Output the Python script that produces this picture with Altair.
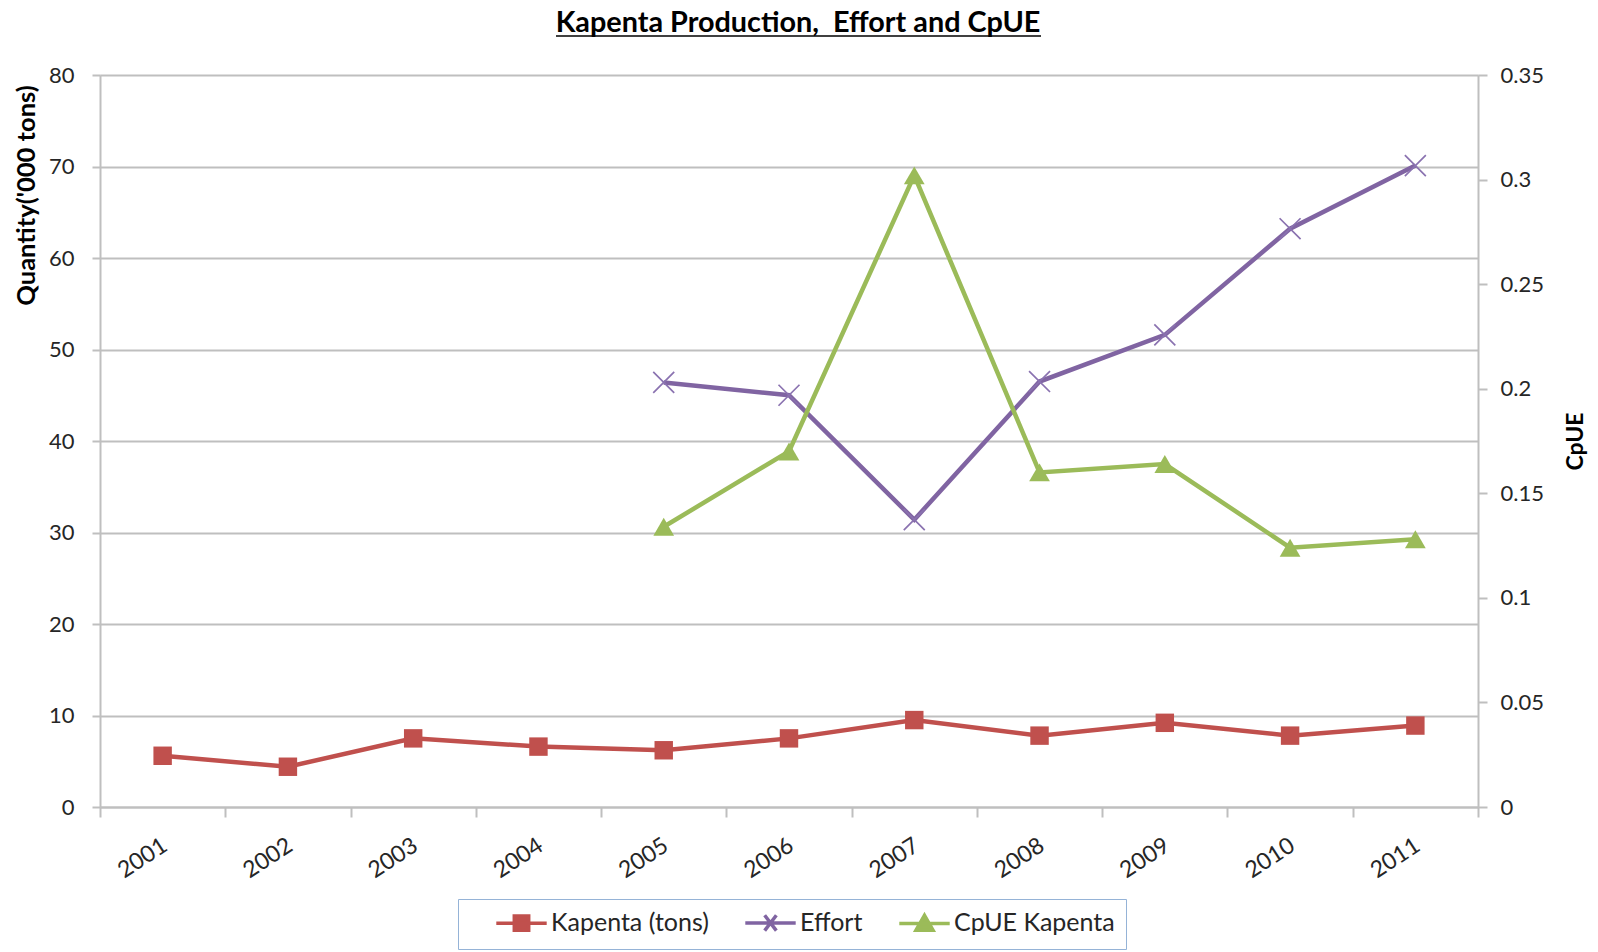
import altair as alt
import pandas as pd

# ---------------- data ----------------
years = ["2001", "2002", "2003", "2004", "2005", "2006", "2007", "2008", "2009", "2010", "2011"]
kapenta = [5.6, 4.4, 7.5, 6.6, 6.2, 7.5, 9.5, 7.8, 9.2, 7.8, 8.9]
effort_years = ["2005", "2006", "2007", "2008", "2009", "2010", "2011"]
effort = [46.4, 45.0, 31.4, 46.5, 51.6, 63.2, 70.1]
cpue = [0.134, 0.170, 0.302, 0.160, 0.164, 0.124, 0.128]
series = ["Kapenta (tons)", "Effort", "CpUE Kapenta"]
colors = ["#C0504D", "#8064A2", "#9BBB59"]
left_ticks = [0, 10, 20, 30, 40, 50, 60, 70, 80]
right_ticks = [0, 0.05, 0.1, 0.15, 0.2, 0.25, 0.3, 0.35]
title_text = "Kapenta Production,\u00a0 Effort and CpUE"

df_k = pd.DataFrame({"year": years, "value": kapenta})
df_e = pd.DataFrame({"year": effort_years, "value": effort})
df_c = pd.DataFrame({"year": effort_years, "value": cpue})
df_leg = pd.DataFrame({"series": series})

FONT = "Lato"
W, H = 1378, 732
GRID = "#BFBFBF"
TXT = "#262626"

x_enc = alt.X(
    "year:O",
    scale=alt.Scale(type="band", domain=years, paddingInner=0, paddingOuter=0),
    axis=alt.Axis(
        title=None, labelAngle=-33, labelAlign="right", labelBaseline="top",
        labelFont=FONT, labelFontSize=23, labelColor=TXT, labelPadding=17, labelOffset=-4,
        tickBand="extent", tickSize=10, tickColor=GRID, tickWidth=2,
        domainColor=GRID, domainWidth=2, grid=False,
    ),
)

left_axis = alt.Axis(
    values=left_ticks, format="d", title="Quantity('000 tons)", orient="left",
    titleFont=FONT, titleFontSize=25.5, titleFontWeight="bold", titleColor="#000000",
    titleAngle=-90, titleAlign="center", titleBaseline="middle", titleX=-74, titleY=120,
    labelFont=FONT, labelFontSize=22, labelColor=TXT, labelPadding=18,
    tickSize=8, tickColor=GRID, tickWidth=2, domainColor=GRID, domainWidth=2,
    grid=True, gridColor=GRID, gridWidth=2,
)
right_axis = alt.Axis(
    values=right_ticks, format="~g", title="CpUE", orient="right",
    titleFont=FONT, titleFontSize=23, titleFontWeight="bold", titleColor="#000000",
    titleAngle=-90, titleAlign="center", titleBaseline="middle", titleX=97, titleY=H / 2,
    labelFont=FONT, labelFontSize=22, labelColor=TXT, labelPadding=13,
    tickSize=9, tickColor=GRID, tickWidth=2, domainColor=GRID, domainWidth=2,
    grid=False,
)
yl = alt.Y("value:Q", scale=alt.Scale(domain=[0, 80], nice=False), axis=left_axis)
yr = alt.Y("value:Q", scale=alt.Scale(domain=[0, 0.35], nice=False), axis=right_axis)

X_PATH = "M-1,-1L1,1M-1,1L1,-1"

k_line = alt.Chart(df_k).mark_line(color=colors[0], strokeWidth=4.5).encode(x=x_enc, y=yl)
k_pts = alt.Chart(df_k).mark_point(shape="square", filled=True, size=340, color=colors[0], opacity=1).encode(x=x_enc, y=yl)
e_line = alt.Chart(df_e).mark_line(color=colors[1], strokeWidth=4.5).encode(x=x_enc, y=yl)
e_pts = alt.Chart(df_e).mark_point(shape=X_PATH, filled=False, size=440, color="#8A72B0", strokeWidth=1.7, opacity=1).encode(x=x_enc, y=yl)

# legend-only layer (no data drawn)
leg_paths = [
    "M-2.8,0H2.8M-0.8,-0.8H0.8V0.8H-0.8Z",
    "M-2.8,0H2.8M-0.65,-0.85L0.65,0.85M-0.65,0.85L0.65,-0.85",
    "M-2.8,0H2.8M0,-0.9L0.95,0.75H-0.95Z",
]
leg = alt.Legend(
    title=None, orient="none", direction="horizontal", legendX=358, legendY=824,
    labelFont=FONT, labelFontSize=25, labelColor=TXT, labelOffset=17, labelLimit=400,
    symbolSize=324, symbolStrokeWidth=3.5, symbolOffset=40, columnPadding=9,
    padding=11, strokeColor="#95B3D7", fillColor="#FFFFFF",
)
legend_layer = alt.Chart(df_leg).mark_point(filled=True, opacity=1).encode(
    shape=alt.Shape("series:N", scale=alt.Scale(domain=series, range=leg_paths), legend=leg),
    fill=alt.Fill("series:N", scale=alt.Scale(domain=series, range=colors), legend=leg),
    stroke=alt.Stroke("series:N", scale=alt.Scale(domain=series, range=colors), legend=leg),
).transform_filter("datum.series == 'none'")

c_line = alt.Chart(df_c).mark_line(color=colors[2], strokeWidth=4.5).encode(x=x_enc, y=yr)
c_pts = alt.Chart(df_c).mark_point(shape="triangle-up", filled=True, size=430, color=colors[2], opacity=1).encode(x=x_enc, y=yr)

# title underline (decoration)
underline = alt.Chart(df_leg).mark_rule(color="#000000", strokeWidth=1.5).encode(
    x=alt.value(456), x2=alt.value(941), y=alt.value(-39)
).transform_filter("datum.series == 'Effort'")

left_layer = alt.layer(k_line, k_pts, e_line, e_pts, legend_layer, underline)
right_layer = alt.layer(c_line, c_pts)

chart = alt.layer(left_layer, right_layer).resolve_scale(y="independent").properties(
    width=W, height=H,
    title=alt.TitleParams(
        title_text, font=FONT, fontSize=28.8, fontWeight="bold",
        color="#000000", anchor="middle", offset=0, dx=9, dy=3,
    ),
    autosize=alt.AutoSizeParams(type="none"),
    padding={"left": 92, "top": 67, "right": 112, "bottom": 145},
).configure_view(stroke=None).configure(background="#FFFFFF")

chart.save("out.html", embed_options={"renderer": "svg", "actions": False})
